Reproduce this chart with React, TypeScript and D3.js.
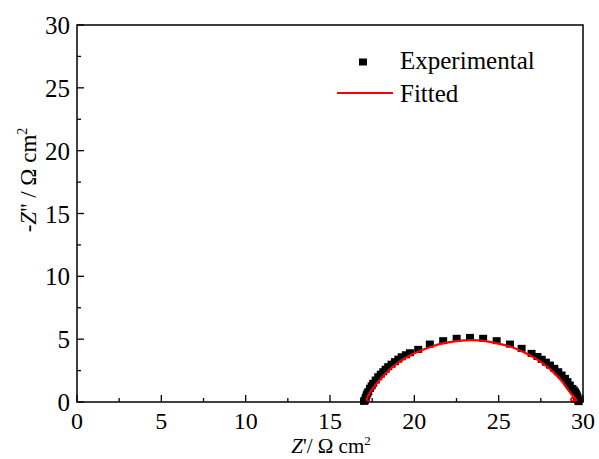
import React from "react";
import * as d3 from "d3";

const expX = [17.02, 17.05, 17.07, 17.12, 17.17, 17.22, 17.27, 17.37, 17.47, 17.56, 17.71, 17.86, 18.01, 18.16, 18.3, 18.45, 18.65, 18.85, 19.05, 19.25, 19.5, 19.74, 20.23, 20.92, 21.71, 22.51, 23.3, 24.08, 24.88, 25.67, 26.36, 26.95, 27.3, 27.55, 27.8, 28.04, 28.3, 28.53, 28.73, 28.93, 29.08, 29.22, 29.37, 29.45, 29.52, 29.58, 29.62, 29.66, 29.68, 29.72, 29.74];
const expY = [0.05, 0.1, 0.16, 0.36, 0.56, 0.7, 0.82, 1.09, 1.29, 1.49, 1.75, 2.01, 2.21, 2.41, 2.61, 2.81, 3.01, 3.21, 3.41, 3.6, 3.76, 3.92, 4.19, 4.61, 4.88, 5.07, 5.14, 5.07, 4.88, 4.61, 4.27, 3.87, 3.62, 3.4, 3.17, 2.94, 2.68, 2.41, 2.15, 1.88, 1.62, 1.35, 1.08, 0.95, 0.82, 0.68, 0.55, 0.42, 0.29, 0.12, 0.03];

const fitX = [17.3, 17.18, 17.3, 17.6, 18.0, 18.5, 19.0, 19.6, 20.3, 21.0, 21.8, 22.6, 23.4, 24.2, 25.0, 25.8, 26.5, 27.2, 27.8, 28.3, 28.75, 29.1, 29.35, 29.5, 29.56, 29.48, 29.36, 29.3, 29.36, 29.52, 29.6, 29.62];
const fitY = [0.02, 0.2, 0.6, 1.2, 1.85, 2.55, 3.1, 3.6, 4.05, 4.4, 4.7, 4.87, 4.92, 4.85, 4.65, 4.35, 3.95, 3.45, 2.9, 2.3, 1.65, 1.0, 0.55, 0.35, 0.2, 0.08, 0.05, 0.2, 0.33, 0.32, 0.15, 0.02];

const xTicks = [0, 5, 10, 15, 20, 25, 30];
const yTicks = [0, 5, 10, 15, 20, 25, 30];
const minorTicks = [2.5, 7.5, 12.5, 17.5, 22.5, 27.5];

const W = 599, H = 459;
const L = 77, R = 583, T = 25, B = 402;
const FONT = "'Liberation Serif', 'Times New Roman', serif";

export default function App() {
  const x = d3.scaleLinear().domain([0, 30]).range([L, R]);
  const y = d3.scaleLinear().domain([0, 30]).range([B, T]);
  const fitPts: [number, number][] = fitX.map((v, i) => [v, fitY[i]]);
  const line = d3.line<[number, number]>().x(d => x(d[0])).y(d => y(d[1])).curve(d3.curveCatmullRom);
  const mw = 8, mh = 7;
  return (
    <svg width={W} height={H} style={{ position: "absolute", left: 0, top: 0, background: "#fff" }}>
      <rect x={0} y={0} width={W} height={H} fill="#fff" />
      {xTicks.map(t => (
        <line key={"xt" + t} x1={x(t)} x2={x(t)} y1={B} y2={B - 7} stroke="#000" strokeWidth={1.3} />
      ))}
      {minorTicks.map(t => (
        <line key={"xm" + t} x1={x(t)} x2={x(t)} y1={B} y2={B - 4} stroke="#000" strokeWidth={1.3} />
      ))}
      {yTicks.map(t => (
        <line key={"yt" + t} x1={L} x2={L + 7} y1={y(t)} y2={y(t)} stroke="#000" strokeWidth={1.3} />
      ))}
      {minorTicks.map(t => (
        <line key={"ym" + t} x1={L} x2={L + 4} y1={y(t)} y2={y(t)} stroke="#000" strokeWidth={1.3} />
      ))}
      {expX.map((v, i) => (
        <rect key={"e" + i} x={x(v) - mw / 2} y={y(expY[i]) - mh / 2} width={mw} height={mh} fill="#000" />
      ))}
      <path d={line(fitPts) || ""} fill="none" stroke="#ff0000" strokeWidth={2.2} />
      <rect x={L} y={T} width={R - L} height={B - T} fill="none" stroke="#000" strokeWidth={1.5} />
      {xTicks.map(t => (
        <text key={"xl" + t} x={x(t)} y={429} textAnchor="middle" fontFamily={FONT} fontSize={24} fill="#000">{t}</text>
      ))}
      {yTicks.map(t => (
        <text key={"yl" + t} x={70} y={y(t) + 9} textAnchor="end" fontFamily={FONT} fontSize={25} fill="#000">{t}</text>
      ))}
      <text x={331} y={453} textAnchor="middle" fontFamily={FONT} fontSize={21} fill="#000">
        <tspan fontStyle="italic">Z</tspan>'/ Ω cm<tspan dy={-8} fontSize={13}>2</tspan>
      </text>
      <text transform={`translate(36, 180) rotate(-90)`} textAnchor="middle" fontFamily={FONT} fontSize={23} fill="#000">
        -<tspan fontStyle="italic">Z</tspan>'' / Ω cm<tspan dy={-9} fontSize={14}>2</tspan>
      </text>
      <rect x={363 - mw / 2} y={62 - mh / 2} width={mw} height={mh} fill="#000" />
      <text x={400} y={69} fontFamily={FONT} fontSize={25} fill="#000">Experimental</text>
      <line x1={337} x2={393} y1={93} y2={93} stroke="#ff0000" strokeWidth={2} />
      <text x={400} y={102} fontFamily={FONT} fontSize={25} fill="#000">Fitted</text>
    </svg>
  );
}
